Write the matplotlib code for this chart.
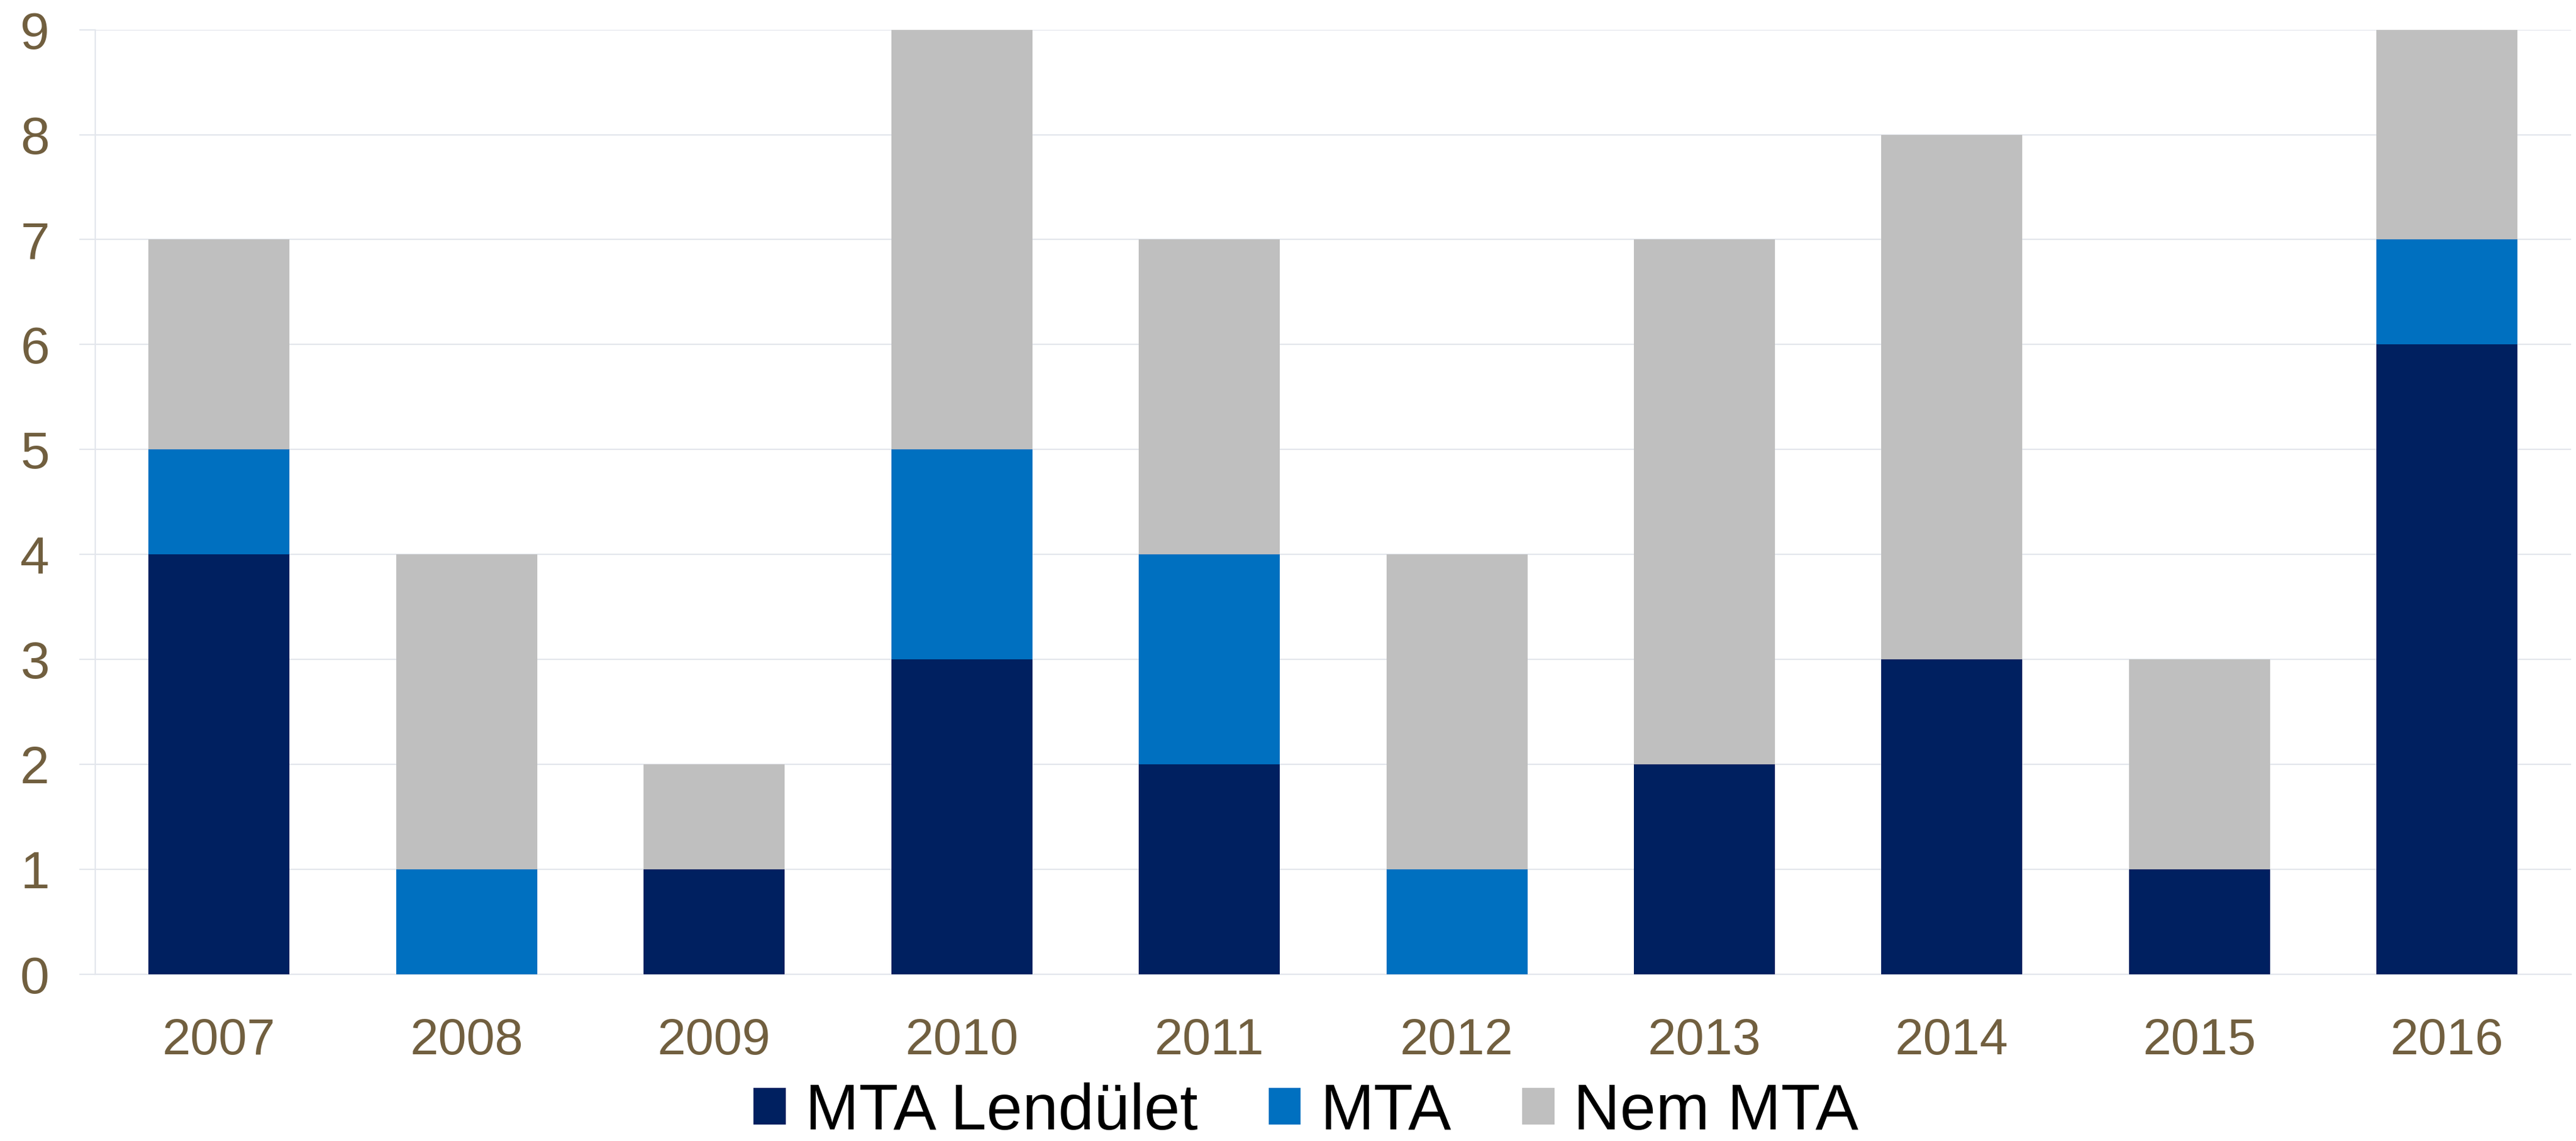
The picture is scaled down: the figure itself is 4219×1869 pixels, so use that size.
import numpy as np
import matplotlib
matplotlib.use("Agg")
import matplotlib.pyplot as plt

years = ["2007", "2008", "2009", "2010", "2011", "2012", "2013", "2014", "2015", "2016"]
lendulet = [4, 0, 1, 3, 2, 0, 2, 3, 1, 6]
mta = [1, 1, 0, 2, 2, 1, 0, 0, 0, 1]
nem_mta = [2, 3, 1, 4, 3, 3, 5, 5, 2, 2]

plt.rcParams["font.family"] = ["Liberation Sans", "DejaVu Sans"]

fig = plt.figure(figsize=(42.19, 18.69), dpi=100)
ax = fig.add_axes([0.037, 0.146, 0.961, 0.828])

x = np.arange(len(years))
w = 0.57
bottom2 = np.array(lendulet)
bottom3 = bottom2 + np.array(mta)

ax.bar(x, lendulet, w, color="#002060", label="MTA Lendület", zorder=3)
ax.bar(x, mta, w, bottom=bottom2, color="#0070C0", label="MTA", zorder=3)
ax.bar(x, nem_mta, w, bottom=bottom3, color="#BFBFBF", label="Nem MTA", zorder=3)

ax.set_xlim(-0.5, len(years) - 0.5)
ax.set_ylim(0, 9)
ax.set_yticks(range(0, 10))
ax.set_xticks(x)
ax.set_xticklabels(years)

grid_col = "#E3E6EC"
ax.yaxis.grid(True, color=grid_col, linewidth=1.6, zorder=0)
for s in ["top", "right"]:
    ax.spines[s].set_visible(False)
for s in ["left", "bottom"]:
    ax.spines[s].set_color(grid_col)
    ax.spines[s].set_linewidth(1.6)

ax.tick_params(axis="y", length=19, width=1.6, color=grid_col, pad=35,
               labelsize=62, labelcolor="#715F3F")
ax.tick_params(axis="x", length=0, pad=50, labelsize=60, labelcolor="#715F3F")

fig.legend(loc="center", bbox_to_anchor=(0.507, 0.025), ncol=3, frameon=False,
           fontsize=76, handlelength=0.5, handleheight=0.5, handletextpad=0.3,
           columnspacing=1.1, borderpad=0)

fig.savefig("out.png", dpi=100)
